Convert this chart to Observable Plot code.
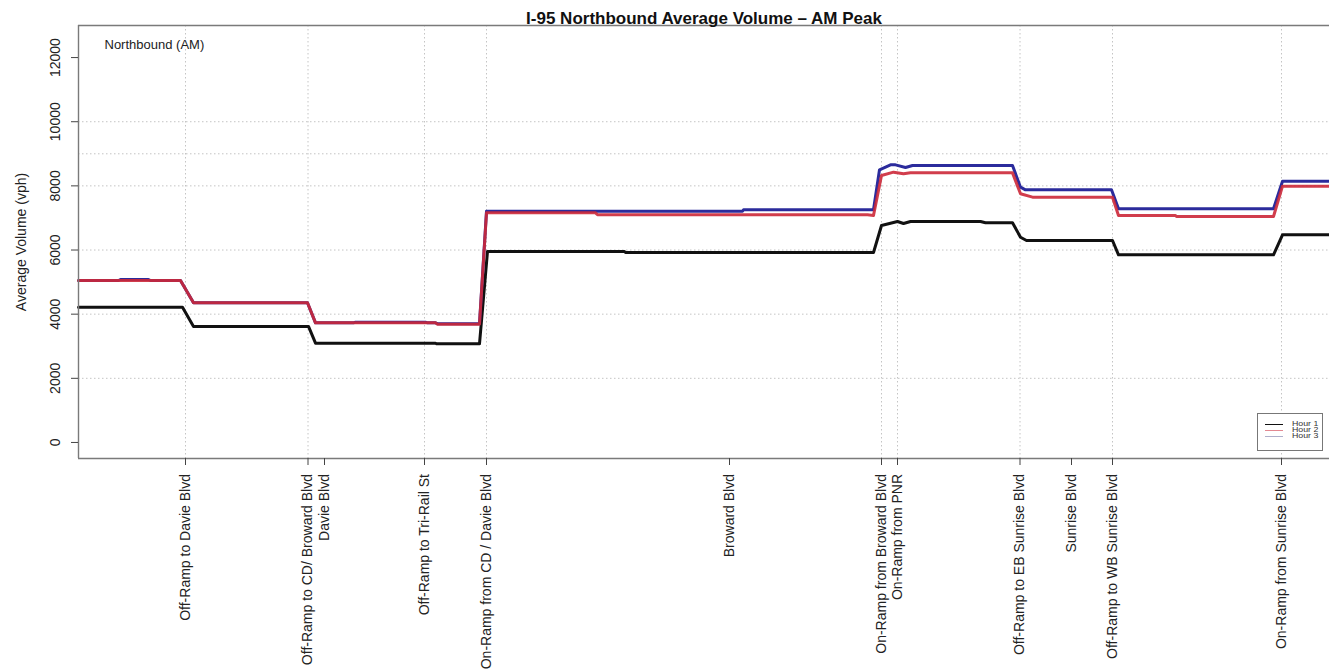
<!DOCTYPE html>
<html>
<head>
<meta charset="utf-8">
<script src="https://cdn.jsdelivr.net/npm/d3@7"></script>
<script src="https://cdn.jsdelivr.net/npm/@observablehq/plot@0.6"></script>
<style>
  body { margin: 0; background: #fff; font-family: "Liberation Sans", Arial, sans-serif; }
  #chart { position: relative; width: 1329px; height: 671px; }
  .legend { position: absolute; left: 1257px; top: 413px; width: 64px; height: 36px;
            border: 1px solid #777; background: #fff; box-sizing: content-box; }
  .legend .row { position: absolute; left: 0; height: 0; }
  .legend .swatch { position: absolute; left: 7px; width: 18px; height: 0; border-top: 1px solid; top: -0.5px; }
  .legend .lab { position: absolute; left: 34px; top: -3px; font-size: 6.5px; line-height: 6px;
                 color: #333; white-space: nowrap; transform: scaleX(1.35); transform-origin: left center; }
</style>
</head>
<body>
<div id="chart"></div>
<script>
// Station along the corridor (hundreds of feet from the start of the section)
const hour1Station = [0.0, 10.4, 11.5, 23.0, 23.7, 35.7, 35.8, 40.1, 40.9, 54.6, 54.7, 79.5, 80.3, 81.9, 82.5, 83.2, 90.2, 90.7, 93.4, 94.2, 94.8, 103.4, 104.0, 119.5, 120.4, 125.1];
const hour1Volume  = [4217, 4217, 3617, 3617, 3095, 3095, 3075, 3075, 5954, 5954, 5923, 5923, 6764, 6889, 6826, 6889, 6889, 6848, 6848, 6400, 6297, 6297, 5850, 5850, 6473, 6473];

const hour2Station = [0.0, 10.2, 11.5, 22.9, 23.7, 35.7, 35.9, 40.1, 40.8, 51.7, 51.9, 78.9, 79.5, 80.3, 81.5, 82.5, 83.2, 93.4, 94.2, 95.4, 103.4, 104.0, 109.7, 109.8, 119.5, 120.4, 125.1];
const hour2Volume  = [5049, 5049, 4354, 4354, 3730, 3730, 3687, 3687, 7160, 7160, 7098, 7098, 7076, 8323, 8427, 8375, 8406, 8406, 7753, 7648, 7648, 7076, 7076, 7045, 7045, 7990, 7990];

const hour3Station = [0.0, 4.0, 4.2, 7.0, 7.2, 10.2, 11.5, 22.9, 23.7, 27.5, 27.7, 34.7, 34.9, 35.7, 35.9, 40.1, 40.8, 66.4, 66.5, 79.5, 80.1, 81.2, 81.7, 82.7, 83.4, 93.4, 94.2, 94.7, 103.3, 104.0, 119.5, 120.4, 125.1];
const hour3Volume  = [5049, 5049, 5080, 5080, 5049, 5049, 4354, 4354, 3730, 3730, 3750, 3750, 3730, 3730, 3705, 3705, 7210, 7210, 7254, 7254, 8500, 8656, 8656, 8573, 8635, 8635, 7960, 7877, 7877, 7285, 7285, 8146, 8146];

// Interchange / ramp locations shown on the x axis
const locationNames = [
  "Off-Ramp to Davie Blvd", "Off-Ramp to CD/ Broward Blvd", "Davie Blvd", "Off-Ramp to Tri-Rail St",
  "On-Ramp from CD / Davie Blvd", "Broward Blvd", "On-Ramp from Broward Blvd", "On-Ramp from PNR",
  "Off-Ramp to EB Sunrise Blvd", "Sunrise Blvd", "Off-Ramp to WB Sunrise Blvd", "On-Ramp from Sunrise Blvd"
];
const locationStation = [10.7, 22.95, 24.6, 34.6, 40.8, 65.1, 80.3, 81.9, 94.15, 99.3, 103.4, 120.3];
// ramps get a vertical reference line
const rampStation = [10.7, 22.95, 34.6, 40.8, 80.3, 81.9, 94.15, 103.4, 120.3];

const yTicks = [0, 2000, 4000, 6000, 8000, 10000, 12000];
const yGrid = [2000, 4000, 6000, 8000, 9000, 10000];

const seriesNames = ["Hour 1", "Hour 2", "Hour 3"];
const seriesColors = ["#111111", "#cc2838", "#2b2b9c"];

const toRows = (st, vol) => st.map((s, i) => ({station: s, volume: vol[i]}));
const hour1 = toRows(hour1Station, hour1Volume);
const hour2 = toRows(hour2Station, hour2Volume);
const hour3 = toRows(hour3Station, hour3Volume);
const locations = locationNames.map((name, i) => ({name, station: locationStation[i]}));

const gridStyle = {stroke: "#c4c4c4", strokeWidth: 1, strokeDasharray: "1.5,2.5"};
const boxStyle = {stroke: "#7a7a7a", strokeWidth: 1.4};
const font = {fontSize: 14, fill: "#222"};

const chart = Plot.plot({
  width: 1329,
  height: 671,
  marginLeft: 78,
  marginRight: 0,
  marginTop: 25,
  marginBottom: 213,
  style: {fontFamily: "'Liberation Sans', Arial, sans-serif", background: "#fff"},
  x: {domain: [0, 125.1], label: null},
  y: {domain: [-500, 13000], label: null},
  marks: [
    Plot.ruleY(yGrid, gridStyle),
    Plot.ruleX(rampStation, gridStyle),
    Plot.line(hour1, {x: "station", y: "volume", stroke: seriesColors[0], strokeWidth: 3}),
    Plot.line(hour3, {x: "station", y: "volume", stroke: seriesColors[2], strokeWidth: 3}),
    Plot.line(hour2, {x: "station", y: "volume", stroke: seriesColors[1], strokeWidth: 3, strokeOpacity: 0.9}),
    // plot box (right side falls at the edge of the page)
    Plot.ruleY([-500, 13000], boxStyle),
    Plot.ruleX([0], boxStyle),
    Plot.axisY({ticks: yTicks, tickSize: 7, tickFormat: () => "", stroke: "#444"}),
    Plot.axisX({ticks: locationStation, tickSize: 7, tickFormat: () => "", stroke: "#444"}),
    Plot.text(yTicks, {y: d => d, text: d => String(d), frameAnchor: "left", dx: -22.5,
      rotate: -90, textAnchor: "middle", lineAnchor: "middle", ...font}),
    Plot.text(locations, {x: "station", text: "name", frameAnchor: "bottom", dy: 15.5,
      rotate: -90, textAnchor: "end", lineAnchor: "middle", ...font}),
    Plot.text(["Average Volume (vph)"], {frameAnchor: "left", dx: -57, rotate: -90,
      textAnchor: "middle", lineAnchor: "middle", ...font}),
    Plot.text(["I-95 Northbound Average Volume \u2013 AM Peak"], {frameAnchor: "top", dy: -7,
      lineAnchor: "middle", fontSize: 17, fontWeight: "bold", fill: "#111"}),
    Plot.text(["Northbound (AM)"], {frameAnchor: "top-left", dx: 26, dy: 19,
      textAnchor: "start", lineAnchor: "middle", fontSize: 13, fill: "#222"})
  ]
});

const host = document.getElementById("chart");
host.appendChild(chart);

// legend box in the lower right corner of the panel
const legend = document.createElement("div");
legend.className = "legend";
const rowTops = [10, 16, 22];
const legendColors = ["#111111", "rgba(204,40,56,0.55)", "rgba(110,110,160,0.55)"];
seriesNames.forEach((name, i) => {
  const row = document.createElement("div");
  row.className = "row";
  row.style.top = rowTops[i] + "px";
  const sw = document.createElement("div");
  sw.className = "swatch";
  sw.style.borderTopColor = legendColors[i];
  const lab = document.createElement("div");
  lab.className = "lab";
  lab.textContent = name;
  row.appendChild(sw);
  row.appendChild(lab);
  legend.appendChild(row);
});
host.appendChild(legend);
</script>
</body>
</html>
